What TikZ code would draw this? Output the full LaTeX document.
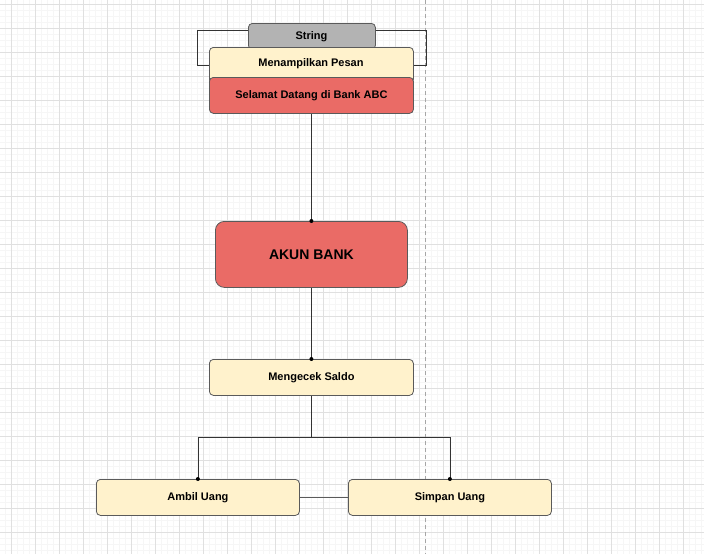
\documentclass[tikz,border=0pt]{standalone}
\usepackage{fontspec}
\usetikzlibrary{calc}
\setmainfont{Liberation Sans}
\definecolor{gridmin}{HTML}{F6F6F6}
\definecolor{gridmaj}{HTML}{E0E0E0}
\definecolor{cream}{HTML}{FFF2CC}
\definecolor{redf}{HTML}{EA6B66}
\definecolor{grayf}{HTML}{B3B3B3}
\definecolor{edge}{HTML}{5A5A5A}
\definecolor{wire}{HTML}{333333}
\tikzset{
  lbl/.style={font=\bfseries\fontsize{11}{13}\selectfont, text=black},
  box/.style={draw=edge, line width=0.8pt, rounded corners=4pt, inner sep=0pt, lbl},
  wirel/.style={draw=wire, line width=0.8pt},
  dotm/.style={circle, fill=black, inner sep=0pt, minimum size=4pt}
}
\begin{document}
\begin{tikzpicture}[x=1pt,y=-1pt]
\useasboundingbox (0,0) rectangle (704,554);
\fill[white] (0,0) rectangle (704,554);
% grid
\foreach \x in {5,11,...,704} \draw[gridmin, line width=0.6pt] (\x,0) -- (\x,554);
\foreach \y in {4,10,...,554} \draw[gridmin, line width=0.6pt] (0,\y) -- (704,\y);
\foreach \x in {11,35,...,704} \draw[gridmaj, line width=0.8pt] (\x,0) -- (\x,554);
\foreach \y in {4,28,...,554} \draw[gridmaj, line width=0.8pt] (0,\y) -- (704,\y);
\draw[gray!70, line width=0.8pt, dash pattern=on 4pt off 3pt] (425,0) -- (425,554);

% nodes
\node[box, fill=grayf, minimum width=127pt, minimum height=26pt, anchor=north west] (str) at (248,23) {};
\node[lbl] (strt) at (311.5,37) {String};
\node[box, fill=cream, minimum width=204pt, minimum height=36pt, anchor=north west] (men) at (209,47) {};
\node[lbl] (ment) at (311,64) {Menampilkan Pesan};
\node[box, fill=redf, minimum width=204pt, minimum height=36pt, anchor=north west] (sel) at (209,77) {Selamat Datang di Bank ABC};
\node[box, fill=redf, minimum width=192pt, minimum height=66pt, rounded corners=9pt, anchor=north west, font=\bfseries\fontsize{14}{16}\selectfont] (akun) at (215,221) {AKUN BANK};
\node[box, fill=cream, minimum width=204pt, minimum height=36pt, anchor=north west] (cek) at (209,359) {Mengecek Saldo};
\node[box, fill=cream, minimum width=203pt, minimum height=36pt, anchor=north west] (ambil) at (96,479) {Ambil Uang};
\node[box, fill=cream, minimum width=203pt, minimum height=36pt, anchor=north west] (simpan) at (348,479) {Simpan Uang};

% bracket around String
\coordinate (bl1) at (197,30);
\coordinate (bl2) at (197,65);
\coordinate (br1) at (426,30);
\coordinate (br2) at (426,65);
\draw[wirel] (str.west |- bl1) -- (bl1) -- (bl2) -- (men.west |- bl2);
\draw[wirel] (str.east |- br1) -- (br1) -- (br2) -- (men.east |- br2);

% connectors
\draw[wirel] (sel.south) -- (akun.north);
\node[dotm] (d1) at (akun.north) {};
\draw[wirel] (akun.south) -- (cek.north);
\node[dotm] (d2) at (cek.north) {};
\coordinate (j) at ($(cek.south)+(0,42)$);
\draw[wirel] (cek.south) -- (j);
\draw[wirel] (ambil.north) -- (ambil.north |- j) -- (simpan.north |- j) -- (simpan.north);
\node[dotm] (d3) at (ambil.north) {};
\node[dotm] (d4) at (simpan.north) {};
\draw[draw=edge, line width=0.8pt] (ambil.east) -- (simpan.west);
\end{tikzpicture}
\end{document}
